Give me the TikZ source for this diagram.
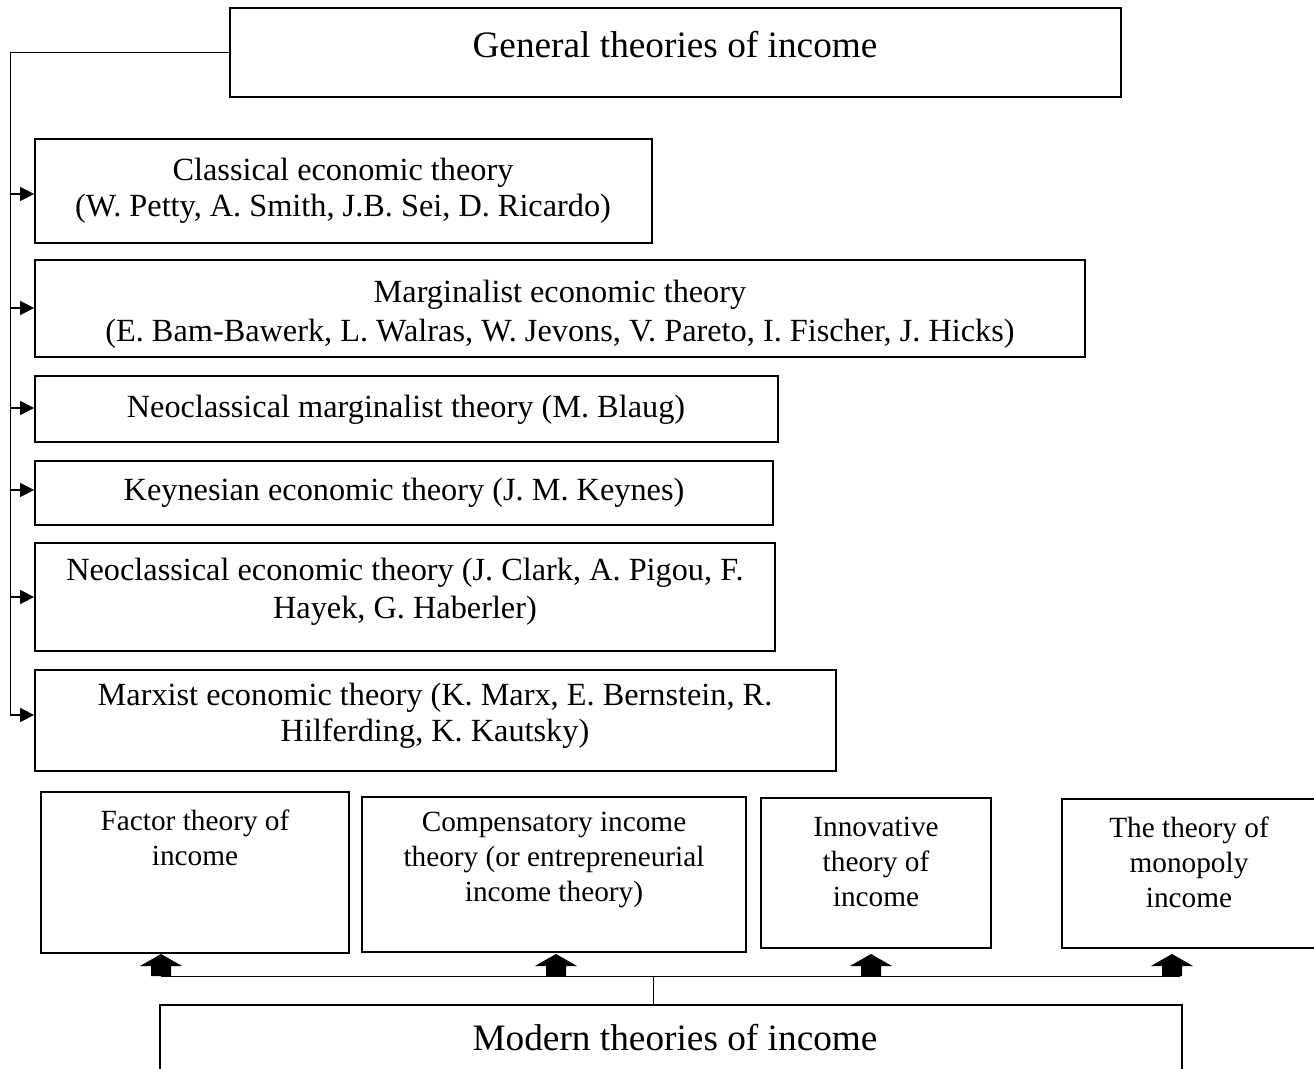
\documentclass[tikz,border=0pt]{standalone}
\usepackage{fontspec}
\setmainfont{Liberation Serif}
\usetikzlibrary{arrows.meta,calc}
\begin{document}
\begin{tikzpicture}[x=1pt,y=-1pt,
  box/.style={draw, line width=1.8pt, inner sep=0pt},
  body/.style={font=\fontsize{32.3}{36}\selectfont, align=center, inner sep=0pt},
  small/.style={font=\fontsize{29.3}{35}\selectfont, align=center, inner sep=0pt},
  big/.style={font=\fontsize{37.3}{44}\selectfont, inner sep=0pt},
  link/.style={line width=1pt},
  feed/.style={line width=1.5pt, -{Triangle[length=14pt,width=14pt]}},
  uparrow/.pic={\fill (-10,0) -- (-10,-10) -- (-21,-10) -- (0,-22) -- (21,-10) -- (10,-10) -- (10,0) -- cycle;}
]
\clip (0,0) rectangle (1314,1068);
\fill[white] (0,0) rectangle (1314,1068);

% general theories and their branches
\node[box, minimum width=891pt, minimum height=89pt] (gen) at (675.5,52.5) {};
\node[big] (gent) at (675,45) {General theories of income};

\node[box, minimum width=617pt, minimum height=104pt] (cl) at (343.5,191) {};
\node[body] (clt) at (343,191) {Classical economic theory\\(W. Petty, A. Smith, J.B. Sei, D. Ricardo)};

\node[box, minimum width=1050pt, minimum height=97pt] (mg) at (560,308.5) {};
\node[body, font=\fontsize{32.3}{39}\selectfont] (mgt) at (560,314) {Marginalist economic theory\\(E. Bam-Bawerk, L. Walras, W. Jevons, V. Pareto, I. Fischer, J. Hicks)};

\node[box, minimum width=743pt, minimum height=66pt] (nm) at (406.5,409) {};
\node[body] (nmt) at (406,410) {Neoclassical marginalist theory (M. Blaug)};

\node[box, minimum width=738pt, minimum height=64pt] (ke) at (404,493) {};
\node[body] (ket) at (404,493) {Keynesian economic theory (J. M. Keynes)};

\node[box, minimum width=740pt, minimum height=108pt] (nc) at (405,597) {};
\node[body, font=\fontsize{32.3}{38}\selectfont] (nct) at (405,592) {Neoclassical economic theory (J. Clark, A. Pigou, F.\\Hayek, G. Haberler)};

\node[box, minimum width=801pt, minimum height=101pt] (mx) at (435.5,720.5) {};
\node[body] (mxt) at (435,716) {Marxist economic theory (K. Marx, E. Bernstein, R.\\Hilferding, K. Kautsky)};

% left feeder line
\coordinate (top) at (10,52.5);
\coordinate (f1) at (10,194);
\coordinate (f2) at (10,308);
\coordinate (f3) at (10,408);
\coordinate (f4) at (10,490);
\coordinate (f5) at (10,597);
\coordinate (f6) at (10,715);
\draw[link] (gen.west) -- (top) -- (f6);
\draw[feed] (f1) -- (f1 -| cl.west);
\draw[feed] (f2) -- (f2 -| mg.west);
\draw[feed] (f3) -- (f3 -| nm.west);
\draw[feed] (f4) -- (f4 -| ke.west);
\draw[feed] (f5) -- (f5 -| nc.west);
\draw[feed] (f6) -- (f6 -| mx.west);

% modern theories
\node[box, minimum width=308pt, minimum height=161pt] (fa) at (195,872.5) {};
\node[small] (fat) at (195,837.5) {Factor theory of\\income};

\node[box, minimum width=384pt, minimum height=155pt] (co) at (554,874.5) {};
\node[small] (cot) at (554,860) {Compensatory income\\theory (or entrepreneurial\\income theory)};

\node[box, minimum width=230pt, minimum height=150pt] (in) at (876,873) {};
\node[small] (int) at (876,862) {Innovative\\theory of\\income};

\node[box, minimum width=254pt, minimum height=149pt] (mo) at (1189,873.5) {};
\node[small] (mot) at (1189,862) {The theory of\\monopoly\\income};

\node[box, minimum width=1022pt, minimum height=120pt] (mod) at (671,1065) {};
\node[big] (modt) at (675,1038) {Modern theories of income};

% bottom distribution line
\coordinate (b1) at (161,976);
\coordinate (b2) at (556,976);
\coordinate (b3) at (871,976);
\coordinate (b4) at (1172,976);
\coordinate (bend) at (1180,976);
\coordinate (hub) at (653,976);
\draw[link] (b1) -- (bend);
\draw[link] (hub) -- (hub |- mod.north);
\pic at (b1) {uparrow};
\pic at (b2) {uparrow};
\pic at (b3) {uparrow};
\pic at (b4) {uparrow};
\end{tikzpicture}
\end{document}
